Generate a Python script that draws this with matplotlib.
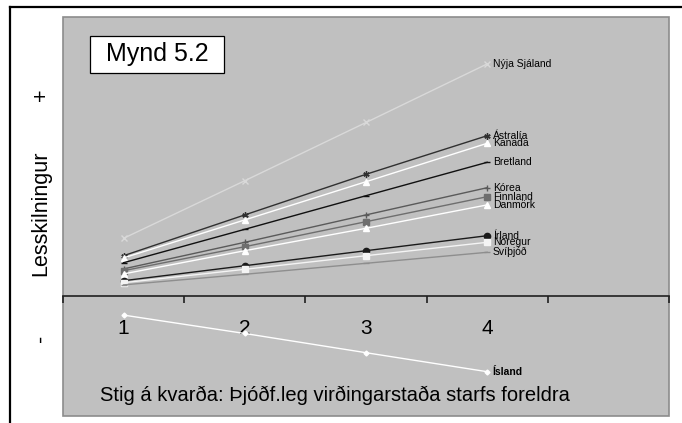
import matplotlib
matplotlib.use('Agg')
from matplotlib import pyplot as plt
from matplotlib.patches import Rectangle
from matplotlib.lines import Line2D

plt.rcParams['font.family'] = ['Liberation Sans', 'DejaVu Sans']

# Stig á kvarða (flokkar á x-ás)
stig = [1, 2, 3, 4]
stig_merki = ['1', '2', '3', '4']

# Lesskilningur eftir stigi (gildi lesin af mynd)
nyja_sjaland = [29.0, 57.8, 86.9, 116.2]
astralia = [20.3, 40.7, 61.0, 80.3]
kanada = [19.2, 38.2, 57.3, 76.5]
bretland = [16.8, 33.5, 50.3, 67.0]
korea = [13.7, 27.0, 40.7, 54.3]
finnland = [12.8, 24.8, 37.3, 49.8]
danmork = [11.2, 22.8, 34.0, 45.7]
irland = [7.8, 15.3, 22.8, 30.3]
noregur = [6.8, 13.5, 20.3, 27.0]
svithjod = [5.7, 11.0, 16.5, 22.0]
island = [-9.4, -18.6, -28.2, -37.7]

# nafn, gögn, litur, merki
lond = [
    ('Nýja Sjáland', nyja_sjaland, '#D9D9D9', 'x'),
    ('Ástralía', astralia, '#303030', (6, 2, 0)),
    ('Kanada', kanada, '#FFFFFF', '^'),
    ('Bretland', bretland, '#101010', '_'),
    ('Kórea', korea, '#5A5A5A', '+'),
    ('Finnland', finnland, '#6E6E6E', 's'),
    ('Danmörk', danmork, '#FFFFFF', '^'),
    ('Írland', irland, '#1A1A1A', 'o'),
    ('Noregur', noregur, '#F4F4F4', 's'),
    ('Svíþjóð', svithjod, '#8E8E8E', '_'),
]

fig = plt.figure(figsize=(6.82, 4.23), dpi=100)
ax = fig.add_axes([63/682, 1-415.7/423, 606/682, 398.7/423])
ax.set_facecolor('#C0C0C0')

for nafn, gogn, litur, merki in lond:
    ax.plot(stig, gogn, color=litur, lw=1.0, marker=merki, ms=4.5,
            mec=litur, mfc=litur, mew=1.0)
    ax.annotate(nafn, (stig[-1], gogn[-1]), xytext=(4, 0),
                textcoords='offset points', fontsize=7.5, va='center')

ax.plot(stig, island, color='white', lw=1.0, marker='D', ms=2.5,
        mec='white', mfc='white')
ax.annotate('Ísland', (stig[-1], island[-1]), xytext=(4, 0),
            textcoords='offset points', fontsize=7.5, fontweight='bold',
            va='center')

ax.set_xlim(0.5, 5.5)
ax.set_ylim(-59.7, 139.65)

# x-ás í núlli
for s in ['top', 'left', 'right']:
    ax.spines[s].set_visible(False)
ax.spines['bottom'].set_position(('data', 0))
ax.spines['bottom'].set_color('#202020')
ax.spines['bottom'].set_linewidth(1.2)
ax.set_xticks([0.5, 1.5, 2.5, 3.5, 4.5, 5.5])
ax.set_xticklabels([])
ax.tick_params(axis='x', which='major', direction='out', length=5,
               width=1.2, color='#202020')
ax.set_xticks(stig, minor=True)
ax.set_xticklabels(stig_merki, minor=True, fontsize=15)
ax.tick_params(axis='x', which='minor', length=0, pad=16)
ax.set_yticks([])

# rammi um teiknisvæði
ax.add_patch(Rectangle((0, 0), 1, 1, transform=ax.transAxes, fill=False,
                       edgecolor='#8C8C8C', lw=1.2, clip_on=False))

# Mynd 5.2 kassi
ax.add_patch(Rectangle((0.0446, 0.8596), 0.2211, 0.0928, transform=ax.transAxes,
                       facecolor='white', edgecolor='black', lw=0.9))
ax.text(0.0446 + 0.2211/2, 0.8596 + 0.0928/2, 'Mynd 5.2', transform=ax.transAxes,
        ha='center', va='center', fontsize=18)

ax.text(0.061, 0.0369, 'Stig á kvarða: Þjóðf.leg virðingarstaða starfs foreldra',
        transform=ax.transAxes, ha='left', va='baseline', fontsize=14.5)

# y-ás titill
fig.text(0.0597, 0.4965, 'Lesskilningur', rotation=90, ha='center', va='center',
         fontsize=15.5)
fig.text(0.0611, 0.7754, '+', rotation=90, ha='center', va='center', fontsize=15.5)
fig.text(0.0611, 0.201, '-', rotation=90, ha='center', va='center', fontsize=15.5)

# ytri rammi
fig.add_artist(Line2D([10/682, 1], [1-7/423, 1-7/423], color='black', lw=1.6))
fig.add_artist(Line2D([10/682, 10/682], [0, 1-7/423], color='black', lw=1.6))

fig.savefig('out.png', dpi=100, facecolor='white')
